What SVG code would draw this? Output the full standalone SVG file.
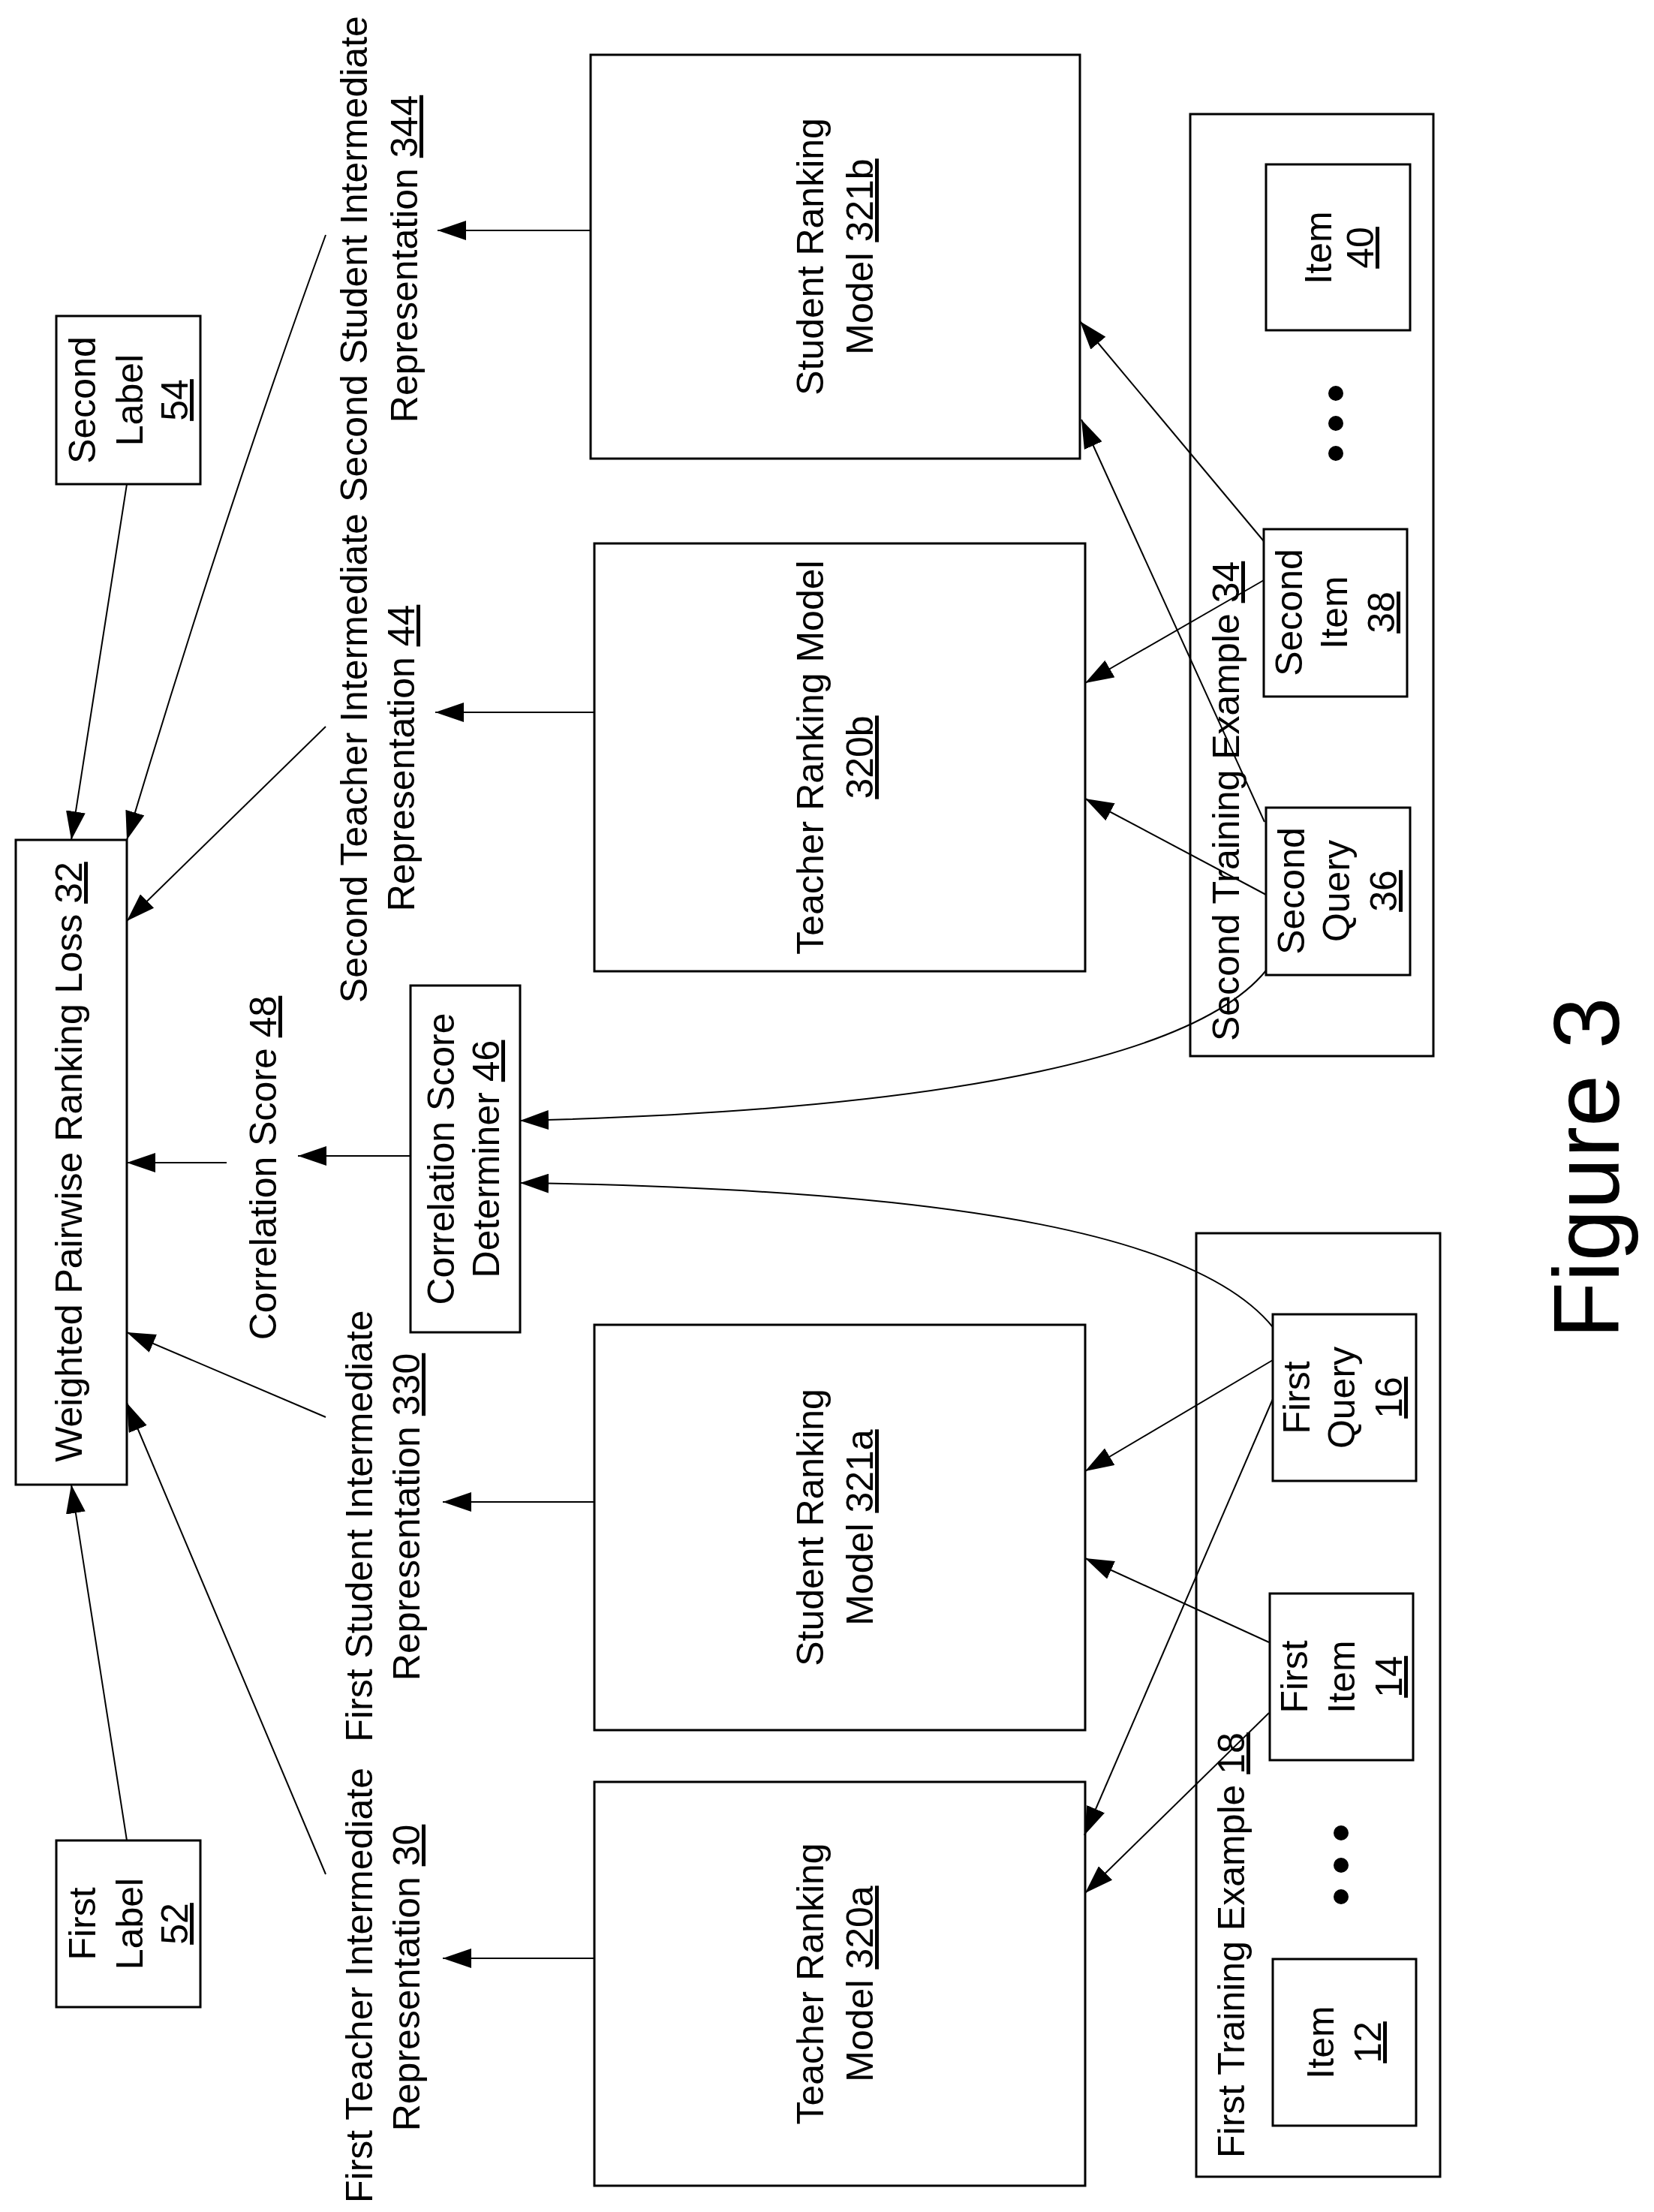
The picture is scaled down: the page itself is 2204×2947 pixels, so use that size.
<svg xmlns="http://www.w3.org/2000/svg" width="2204" height="2947" viewBox="0 0 2204 2947">
<style>
.b{fill:#fff;stroke:#000;stroke-width:3}
.c{fill:none;stroke:#000;stroke-width:2}
.t{font-family:"Liberation Sans",Arial,sans-serif;font-size:50px;text-anchor:middle;fill:#000}
.s{text-anchor:start}
.u{text-decoration:underline}
</style>
<defs>
<marker id="a" markerWidth="38" markerHeight="26" refX="38" refY="13" orient="auto" markerUnits="userSpaceOnUse"><path d="M0,0 L38,13 L0,26 z" fill="#000"/></marker>
</defs>
<rect width="2204" height="2947" fill="#fff"/>

<g id="loss"><rect class="b" x="21" y="1119" width="148" height="859"/>
<text class="t" transform="translate(109,1548) rotate(-90)">Weighted Pairwise Ranking Loss <tspan class="u">32</tspan></text></g>
<g id="label54"><rect class="b" x="75" y="421" width="192" height="224"/>
<text class="t" transform="translate(127,533) rotate(-90)">Second</text>
<text class="t" transform="translate(190,533) rotate(-90)">Label</text>
<text class="t" transform="translate(250,533) rotate(-90)"><tspan class="u">54</tspan></text></g>
<g id="label52"><rect class="b" x="75" y="2452" width="192" height="222"/>
<text class="t" transform="translate(127,2563) rotate(-90)">First</text>
<text class="t" transform="translate(190,2563) rotate(-90)">Label</text>
<text class="t" transform="translate(250,2563) rotate(-90)"><tspan class="u">52</tspan></text></g>

<g id="score48"><text class="t" transform="translate(368,1556) rotate(-90)">Correlation Score <tspan class="u">48</tspan></text></g>
<g id="det46"><rect class="b" x="547" y="1313" width="146" height="462"/>
<text class="t" transform="translate(605,1544) rotate(-90)">Correlation Score</text>
<text class="t" transform="translate(665,1544) rotate(-90)">Determiner <tspan class="u">46</tspan></text></g>

<g id="rep344"><text class="t" transform="translate(489,345) rotate(-90)">Second Student Intermediate</text>
<text class="t" transform="translate(556,345) rotate(-90)">Representation <tspan class="u">344</tspan></text></g>
<g id="rep44"><text class="t" transform="translate(489,1010) rotate(-90)">Second Teacher Intermediate</text>
<text class="t" transform="translate(552,1010) rotate(-90)">Representation <tspan class="u">44</tspan></text></g>
<g id="rep330"><text class="t" transform="translate(496,2033) rotate(-90)">First Student Intermediate</text>
<text class="t" transform="translate(559,2021) rotate(-90)">Representation <tspan class="u">330</tspan></text></g>
<g id="rep30"><text class="t" transform="translate(496,2645) rotate(-90)">First Teacher Intermediate</text>
<text class="t" transform="translate(559,2635) rotate(-90)">Representation <tspan class="u">30</tspan></text></g>

<g id="m321b"><rect class="b" x="787" y="73" width="652" height="538"/>
<text class="t" transform="translate(1097,342) rotate(-90)">Student Ranking</text>
<text class="t" transform="translate(1163,342) rotate(-90)">Model <tspan class="u">321b</tspan></text></g>
<g id="m320b"><rect class="b" x="792" y="724" width="654" height="570"/>
<text class="t" transform="translate(1097,1009) rotate(-90)">Teacher Ranking Model</text>
<text class="t" transform="translate(1163,1009) rotate(-90)"><tspan class="u">320b</tspan></text></g>
<g id="m321a"><rect class="b" x="792" y="1765" width="654" height="540"/>
<text class="t" transform="translate(1097,2035) rotate(-90)">Student Ranking</text>
<text class="t" transform="translate(1163,2035) rotate(-90)">Model <tspan class="u">321a</tspan></text></g>
<g id="m320a"><rect class="b" x="792" y="2374" width="654" height="538"/>
<text class="t" transform="translate(1097,2643) rotate(-90)">Teacher Ranking</text>
<text class="t" transform="translate(1163,2643) rotate(-90)">Model <tspan class="u">320a</tspan></text></g>

<g id="ex34"><rect class="b" x="1586" y="152" width="324" height="1255"/>
<text class="t s" transform="translate(1651,1387) rotate(-90)">Second Training Example <tspan class="u">34</tspan></text></g>
<g id="item40"><rect class="b" x="1687" y="219" width="192" height="221"/>
<text class="t" transform="translate(1774,330) rotate(-90)">Item</text>
<text class="t" transform="translate(1830,330) rotate(-90)"><tspan class="u">40</tspan></text></g>
<g id="dots2"><circle cx="1780" cy="524" r="10"/><circle cx="1780" cy="564" r="10"/><circle cx="1780" cy="604" r="10"/></g>
<g id="item38"><rect class="b" x="1684" y="705" width="191" height="223"/>
<text class="t" transform="translate(1735,816) rotate(-90)">Second</text>
<text class="t" transform="translate(1795,816) rotate(-90)">Item</text>
<text class="t" transform="translate(1858,816) rotate(-90)"><tspan class="u">38</tspan></text></g>
<g id="query36"><rect class="b" x="1687" y="1076" width="192" height="223"/>
<text class="t" transform="translate(1738,1187) rotate(-90)">Second</text>
<text class="t" transform="translate(1798,1187) rotate(-90)">Query</text>
<text class="t" transform="translate(1861,1187) rotate(-90)"><tspan class="u">36</tspan></text></g>

<g id="ex18"><rect class="b" x="1594" y="1643" width="325" height="1257"/>
<text class="t s" transform="translate(1658,2875) rotate(-90)">First Training Example <tspan class="u">18</tspan></text></g>
<g id="query16"><rect class="b" x="1696" y="1751" width="191" height="222"/>
<text class="t" transform="translate(1745,1862) rotate(-90)">First</text>
<text class="t" transform="translate(1805,1862) rotate(-90)">Query</text>
<text class="t" transform="translate(1868,1862) rotate(-90)"><tspan class="u">16</tspan></text></g>
<g id="item14"><rect class="b" x="1692" y="2123" width="191" height="222"/>
<text class="t" transform="translate(1742,2234) rotate(-90)">First</text>
<text class="t" transform="translate(1805,2234) rotate(-90)">Item</text>
<text class="t" transform="translate(1868,2234) rotate(-90)"><tspan class="u">14</tspan></text></g>
<g id="dots1"><circle cx="1787" cy="2442" r="10"/><circle cx="1787" cy="2485" r="10"/><circle cx="1787" cy="2527" r="10"/></g>
<g id="item12"><rect class="b" x="1696" y="2610" width="191" height="222"/>
<text class="t" transform="translate(1777,2721) rotate(-90)">Item</text>
<text class="t" transform="translate(1840,2721) rotate(-90)"><tspan class="u">12</tspan></text></g>

<g id="fig"><text class="t" style="font-size:124px" transform="translate(2157,1556) rotate(-90)">Figure 3</text></g>

<g id="connectors">
<path class="c" marker-end="url(#a)" d="M787,307 H583"/>
<path class="c" marker-end="url(#a)" d="M792,949 H580"/>
<path class="c" marker-end="url(#a)" d="M792,2001 H590"/>
<path class="c" marker-end="url(#a)" d="M792,2609 H590"/>
<path class="c" marker-end="url(#a)" d="M169,645 L95,1119"/>
<path class="c" marker-end="url(#a)" d="M434,313 Q300,680 169,1119"/>
<path class="c" marker-end="url(#a)" d="M434,968 L169,1227"/>
<path class="c" marker-end="url(#a)" d="M434,1888 L169,1775"/>
<path class="c" marker-end="url(#a)" d="M434,2497 L169,1869"/>
<path class="c" marker-end="url(#a)" d="M169,2452 L95,1978"/>
<path class="c" marker-end="url(#a)" d="M547,1540 H397"/>
<path class="c" marker-end="url(#a)" d="M302,1549 H169"/>
<path class="c" marker-end="url(#a)" d="M1687,1293 C1600,1400 1300,1478 693,1493"/>
<path class="c" marker-end="url(#a)" d="M1696,1768 C1600,1650 1300,1585 693,1576"/>
<path class="c" marker-end="url(#a)" d="M1684,721 L1439,428"/>
<path class="c" marker-end="url(#a)" d="M1684,773 L1446,910"/>
<path class="c" marker-end="url(#a)" d="M1685,1095 L1441,559"/>
<path class="c" marker-end="url(#a)" d="M1687,1192 L1446,1064"/>
<path class="c" marker-end="url(#a)" d="M1696,1812 L1446,1960"/>
<path class="c" marker-end="url(#a)" d="M1696,1864 L1445,2445"/>
<path class="c" marker-end="url(#a)" d="M1691,2188 L1446,2076"/>
<path class="c" marker-end="url(#a)" d="M1691,2282 L1446,2522"/>
</g>
</svg>
